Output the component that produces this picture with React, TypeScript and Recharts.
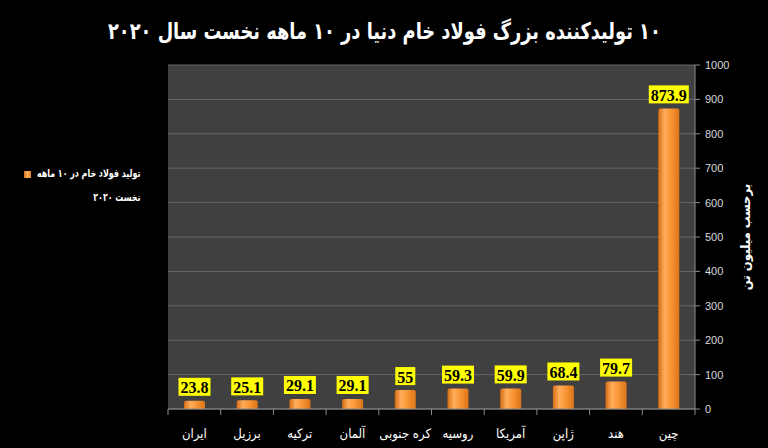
import { BarChart, Bar, XAxis, YAxis, CartesianGrid, LabelList } from 'recharts';

const countries = ['ایران', 'برزیل', 'ترکیه', 'آلمان', 'کره جنوبی', 'روسیه', 'آمریکا', 'ژاپن', 'هند', 'چین'];
const production = [23.8, 25.1, 29.1, 29.1, 55, 59.3, 59.9, 68.4, 79.7, 873.9];
const yTicks = [0, 100, 200, 300, 400, 500, 600, 700, 800, 900, 1000];

const title = '۱۰ تولیدکننده بزرگ فولاد خام دنیا در ۱۰ ماهه نخست سال ۲۰۲۰';
const seriesName = 'تولید فولاد خام در ۱۰ ماهه نخست ۲۰۲۰';
const legendLines = ['تولید فولاد خام در ۱۰ ماهه', 'نخست ۲۰۲۰'];
const yTitle = 'برحسب میلیون تن';

const data = countries.map((c, i) => ({ country: c, value: production[i] }));

const AR_FONT = '"DejaVu Sans Condensed", "DejaVu Sans", sans-serif';

function textWidth(s: string) {
  let w = 0;
  for (const ch of s) w += ch === '.' ? 4 : 8;
  return w;
}

function ValueBox(props: any) {
  const { x, y, width, value } = props;
  const text = String(value);
  const w = textWidth(text) + 4;
  const h = 18;
  const cx = x + width / 2;
  const bottom = y - 5;
  return (
    <g>
      <rect x={cx - w / 2} y={bottom - h} width={w} height={h} fill="#ffff00" />
      <text
        x={cx}
        y={bottom - h / 2 + 1}
        dominantBaseline="central"
        textAnchor="middle"
        fontFamily='"Liberation Serif", serif'
        fontWeight="bold"
        fontSize={16}
        fill="#000"
      >
        {text}
      </text>
    </g>
  );
}

function CountryTick(props: any) {
  const { x, y, payload, index } = props;
  const off = payload.offset ?? 0;
  return (
    <g>
      <line x1={x - off} x2={x - off} y1={y - 6} y2={y} stroke="#8c8c8c" />
      {index === countries.length - 1 && (
        <line x1={x + off} x2={x + off} y1={y - 6} y2={y} stroke="#8c8c8c" />
      )}
      <text
        x={x}
        y={y + 18}
        textAnchor="middle"
        dominantBaseline="central"
        fill="#ffffff"
        fontFamily={AR_FONT}
        fontSize={13}
        direction="rtl"
      >
        {payload.value}
      </text>
    </g>
  );
}

function YTitle(props: any) {
  const { viewBox } = props;
  const cx = viewBox.x + 50;
  const cy = viewBox.y + viewBox.height / 2;
  return (
    <text
      x={cx}
      y={cy}
      transform={`rotate(-90 ${cx} ${cy})`}
      textAnchor="middle"
      dominantBaseline="central"
      fill="#ffffff"
      fontFamily={AR_FONT}
      fontWeight="bold"
      fontSize={13}
      direction="rtl"
    >
      {yTitle}
    </text>
  );
}

function LegendBox() {
  return (
    <div title={seriesName}>
      <div
        style={{
          position: 'absolute',
          left: 24,
          top: 171,
          width: 7,
          height: 7,
          background: 'linear-gradient(90deg,#d9701a,#ffb060,#e57e1e)',
        }}
      />
      <div
        style={{
          position: 'absolute',
          right: 768 - 140,
          top: 162,
          direction: 'rtl',
          textAlign: 'right',
          whiteSpace: 'nowrap',
          color: '#ffffff',
          fontFamily: AR_FONT,
          fontWeight: 'bold',
          fontSize: 11,
          lineHeight: '24px',
          transform: 'scaleX(0.8)',
          transformOrigin: 'right center',
        }}
      >
        {legendLines.map((l) => (
          <div key={l}>{l}</div>
        ))}
      </div>
    </div>
  );
}

export default function App() {
  return (
    <div
      style={{
        position: 'absolute',
        left: 0,
        top: 0,
        width: 768,
        height: 448,
        background: '#000000',
        overflow: 'hidden',
      }}
    >
      <div
        style={{
          position: 'absolute',
          left: 0,
          width: 768,
          top: 13,
          textAlign: 'center',
          color: '#ffffff',
          fontFamily: AR_FONT,
          fontWeight: 'bold',
          fontSize: 23,
          lineHeight: '36px',
        }}
      >
        <span style={{ display: 'inline-block', direction: 'rtl', transform: 'scaleX(0.86)' }}>{title}</span>
      </div>
      <LegendBox />
      <BarChart
        width={768}
        height={448}
        data={data}
        margin={{ top: 65, right: 13, bottom: 9, left: 168 }}
        barCategoryGap={0}
      >
        <defs>
          <linearGradient id="barFill" x1="0" y1="0" x2="1" y2="0">
            <stop offset="0%" stopColor="#d46c14" />
            <stop offset="30%" stopColor="#ffad5c" />
            <stop offset="55%" stopColor="#fb9a3a" />
            <stop offset="100%" stopColor="#dc7418" />
          </linearGradient>
        </defs>
        <CartesianGrid vertical={false} fill="#404040" stroke="#666666" />
        <XAxis
          dataKey="country"
          axisLine={{ stroke: '#8c8c8c' }}
          tickLine={false}
          tickSize={6}
          tickMargin={0}
          height={30}
          interval={0}
          tick={<CountryTick />}
        />
        <YAxis
          orientation="right"
          domain={[0, 1000]}
          ticks={yTicks}
          interval={0}
          width={60}
          axisLine={{ stroke: '#8c8c8c' }}
          tickLine={{ stroke: '#8c8c8c' }}
          tickSize={5}
          tickMargin={5}
          tick={{ fill: '#d9d9d9', fontSize: 11, fontFamily: '"Liberation Sans", sans-serif' }}
          label={<YTitle />}
        />
        <Bar
          dataKey="value"
          name={seriesName}
          fill="url(#barFill)"
          barSize={21}
          radius={[2, 2, 0, 0]}
          isAnimationActive={false}
        >
          <LabelList dataKey="value" content={<ValueBox />} />
        </Bar>
      </BarChart>
    </div>
  );
}
